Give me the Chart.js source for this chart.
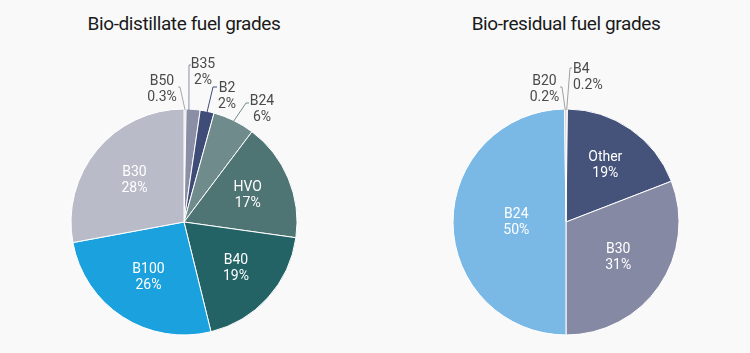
<!DOCTYPE html>
<html>
<head>
<meta charset="utf-8">
<script src="https://cdn.jsdelivr.net/npm/chart.js@4/dist/chart.umd.min.js"></script>
<style>
  html, body { margin: 0; padding: 0; background: #f9f9f9; }
  #wrap { position: relative; width: 750px; height: 353px; background: #f9f9f9; overflow: hidden; }
  .title { position: absolute; top: 10px; width: 368px; text-align: center; font-family: Roboto, "Noto Sans", sans-serif; font-size: 19px; letter-spacing: -0.4px; color: #1a1a1a; line-height: 28px; }
  canvas { position: absolute; top: 0; }
</style>
</head>
<body>
<div id="wrap">
  <div class="title" style="left:0px;">Bio-distillate fuel grades</div>
  <div class="title" style="left:382px;">Bio-residual fuel grades</div>
  <canvas id="c1" width="368" height="353" style="left:0px;"></canvas>
  <canvas id="c2" width="368" height="353" style="left:382px;"></canvas>
</div>
<script>
// ---- data ----
const distCategories = ['B50', 'B35', 'B2', 'B24', 'HVO', 'B40', 'B100', 'B30'];
const distValues = [0.3, 2, 2, 6, 17, 19, 26, 28];
const distValueLabels = ['0.3%', '2%', '2%', '6%', '17%', '19%', '26%', '28%'];

const resCategories = ['B4', 'Other', 'B30', 'B24', 'B20'];
const resValues = [0.2, 19, 31, 50, 0.2];
const resValueLabels = ['0.2%', '19%', '31%', '50%', '0.2%'];

// ---- styles ----
const distColors = ['#c3c5d0', '#8a8fa6', '#404c78', '#6f8b8b', '#4f7474', '#236366', '#1ba1de', '#b9bbc9'];
const resColors = ['#a0a0a0', '#45527a', '#8689a4', '#7ab9e6', '#a0a0a0'];

const FONT = 'Roboto, "Noto Sans", sans-serif';

// outside label placement (relative to pie centre, pixels)
const distOutside = {
  0: { tx: -22, ty: -141, align: 'center', ex: -4, ey: -135, tickX: -6, at: 0.5, color: '#a8a8a8' },
  1: { tx: 19, ty: -158, align: 'center', ex: 5, ey: -157, tickX: 7, at: 0.2, color: '#8a8fa6' },
  2: { tx: 43, ty: -134, align: 'center', ex: 29, ey: -135, tickX: 33, at: 0.5, color: '#404c78' },
  3: { tx: 78, ty: -121, align: 'center', ex: 62, ey: -119, tickX: 65, at: 0.5, color: '#6f8b8b' }
};
const distInside = { 4: 0.61, 5: 0.62, 6: 0.58, 7: 0.57 };

const resOutside = {
  0: { tx: 7, ty: -153, align: 'left', ex: 4, ey: -154, tickX: 6, at: 0.5, color: '#a0a0a0' },
  4: { tx: -21.5, ty: -141, align: 'center', ex: -4, ey: -135, tickX: -6, at: 0.5, color: '#a0a0a0' }
};
const resInside = { 1: 0.61, 2: 0.56, 3: 0.44 };

const labelPlugin = {
  id: 'sliceLabels',
  afterDatasetsDraw(chart, args, opts) {
    const ctx = chart.ctx;
    const meta = chart.getDatasetMeta(0);
    const cats = chart.data.labels;
    const vlabels = opts.valueLabels;
    ctx.save();
    ctx.font = '14px ' + FONT;
    ctx.textBaseline = 'middle';
    meta.data.forEach((arc, i) => {
      const p = arc.getProps(['x', 'y', 'startAngle', 'endAngle', 'outerRadius'], true);
      if (opts.inside[i] !== undefined) {
        const mid = (p.startAngle + p.endAngle) / 2;
        const r = p.outerRadius * opts.inside[i];
        const lx = p.x + Math.cos(mid) * r;
        const ly = p.y + Math.sin(mid) * r;
        ctx.fillStyle = '#ffffff';
        ctx.textAlign = 'center';
        ctx.fillText(cats[i], lx, ly - 8);
        ctx.fillText(vlabels[i], lx, ly + 8);
      } else if (opts.outside[i]) {
        const o = opts.outside[i];
        const ang = p.startAngle + (p.endAngle - p.startAngle) * o.at;
        const ax = p.x + Math.cos(ang) * (p.outerRadius - 1);
        const ay = p.y + Math.sin(ang) * (p.outerRadius - 1);
        ctx.strokeStyle = o.color;
        ctx.lineWidth = 1;
        ctx.beginPath();
        ctx.moveTo(ax, ay);
        ctx.lineTo(p.x + o.ex, p.y + o.ey);
        ctx.lineTo(p.x + o.tickX, p.y + o.ey);
        ctx.stroke();
        ctx.fillStyle = '#4a4a4a';
        ctx.textAlign = o.align;
        ctx.fillText(cats[i], p.x + o.tx, p.y + o.ty);
        ctx.fillText(vlabels[i], p.x + o.tx, p.y + o.ty + 16);
      }
    });
    ctx.restore();
  }
};

function makePie(id, cats, vals, vlabels, colors, inside, outside) {
  return new Chart(document.getElementById(id), {
    type: 'pie',
    data: {
      labels: cats,
      datasets: [{
        data: vals,
        backgroundColor: colors,
        borderColor: '#ffffff',
        borderWidth: 1
      }]
    },
    options: {
      responsive: false,
      devicePixelRatio: 1,
      animation: false,
      radius: 113,
      layout: { padding: { top: 100, bottom: 9, left: 0, right: 0 } },
      plugins: {
        legend: { display: false },
        tooltip: { enabled: false },
        sliceLabels: { valueLabels: vlabels, inside: inside, outside: outside }
      }
    },
    plugins: [labelPlugin]
  });
}

makePie('c1', distCategories, distValues, distValueLabels, distColors, distInside, distOutside);
makePie('c2', resCategories, resValues, resValueLabels, resColors, resInside, resOutside);
</script>
</body>
</html>
